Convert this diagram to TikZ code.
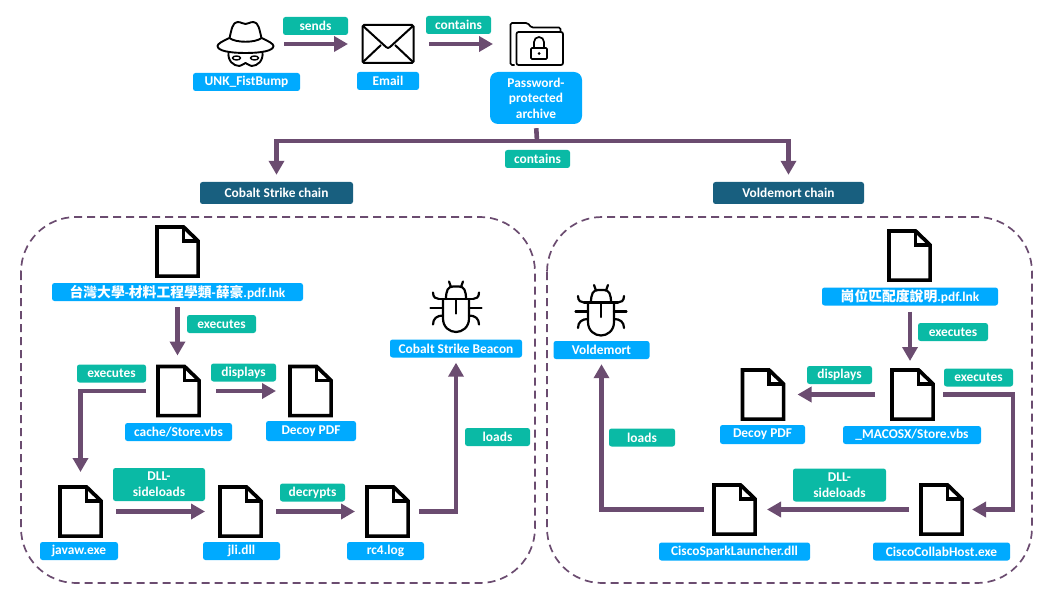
\documentclass[tikz,border=0pt]{standalone}
\usepackage{fontspec}
\setmainfont{Carlito}
\newfontfamily\cjkfont[Scale=1.03]{Noto Sans CJK TC}
\usetikzlibrary{arrows.meta}

\definecolor{labelblue}{RGB}{0,170,255}
\definecolor{verbteal}{RGB}{10,186,165}
\definecolor{chainblue}{RGB}{24,95,127}
\definecolor{flowpurple}{RGB}{107,76,112}

\tikzset{
    filelabel/.style={fill=labelblue, text=white, font=\fontsize{13.4}{15.5}\selectfont\bfseries, rounded corners=2.5pt,
        minimum height=18pt, inner sep=0pt, align=center},
    verblabel/.style={fill=verbteal, text=white, font=\fontsize{13.4}{16}\selectfont\bfseries, rounded corners=2.5pt,
        minimum height=18pt, inner sep=0pt, align=center},
    chainlabel/.style={fill=chainblue, text=white, font=\fontsize{13.4}{15}\selectfont\bfseries, rounded corners=2.5pt,
        minimum height=22pt, inner sep=0pt},
    flow/.style={draw=flowpurple, line width=4.6pt, -{Triangle[length=14pt,width=15pt]}},
    flowplain/.style={draw=flowpurple, line width=4.6pt},
    chainbox/.style={draw=flowpurple, line width=1.7pt, dash pattern=on 8pt off 5pt, rounded corners=55pt},
    iconnode/.style={inner sep=0pt, outer sep=0pt},
    docnode/.style={iconnode, minimum width=45pt, minimum height=53pt},
    bugnode/.style={iconnode, minimum width=52pt, minimum height=52pt},
    docicon/.pic={
        \draw[line width=3.7pt, line join=miter] (-20.6,-24.6) -- (6,-24.6) -- (20.6,-10.5) -- (20.6,24.6) -- (-20.6,24.6) -- cycle;
        \draw[line width=3.7pt, line join=miter] (6,-24.6) -- (6,-10.5) -- (20.6,-10.5);
    },
    bugicon/.pic={
        \draw[line width=2.2pt, line cap=round] (-10,-7.5) .. controls (-10,-16) and (-8,-20) .. (-3,-20) -- (3,-20)
            .. controls (8,-20) and (10,-16) .. (10,-7.5);
        \draw[line width=2.2pt, line cap=round] (-17,-7.5) -- (17,-7.5);
        \draw[line width=2.2pt, line cap=round] (-13,-7.5) -- (-13,12) .. controls (-13,21) and (-6,25.5) .. (0,25.5)
            .. controls (6,25.5) and (13,21) .. (13,12) -- (13,-7.5);
        \draw[line width=2.2pt, line cap=round] (0,-7.5) -- (0,7);
        \foreach \s in {-1,1} {
            \draw[line width=2.2pt, line cap=round] (\s*7,-25) -- (\s*5,-19.5);
            \draw[line width=2.2pt, line cap=round] (\s*23,-14) .. controls (\s*23,-9) and (\s*20,-7.5) .. (\s*17,-7.5);
            \draw[line width=2.2pt, line cap=round] (\s*25.5,1.5) -- (\s*13,1.5);
            \draw[line width=2.2pt, line cap=round] (\s*23,18) .. controls (\s*23,12) and (\s*19,9) .. (\s*13,9);
        }
    },
    spyicon/.pic={
        \draw[line width=1.9pt, line join=round] (-16,-6) .. controls (-14,-14) and (-13,-22) .. (-8,-22)
            .. controls (-4,-22) and (-3,-20) .. (0,-20) .. controls (3,-20) and (4,-22) .. (8,-22)
            .. controls (13,-22) and (14,-14) .. (16,-6);
        \draw[line width=1.9pt, line join=round] (-16,-6) .. controls (-23,-3) and (-28,0) .. (-28,2)
            .. controls (-28,7) and (-15,9) .. (0,9) .. controls (15,9) and (28,7) .. (28,2)
            .. controls (28,0) and (23,-3) .. (16,-6) .. controls (10,-1) and (-10,-1) .. (-16,-6);
        \draw[line width=1.9pt, line join=round] (-17,8) .. controls (-18,17) and (-12,22) .. (-6,22)
            .. controls (-3,22) and (-2,19) .. (0,19) .. controls (2,19) and (3,22) .. (6,22)
            .. controls (12,22) and (18,17) .. (17,8);
        \draw[line width=1.4pt] (-9,14) ellipse (4 and 2);
        \draw[line width=1.4pt] (9,14) ellipse (4 and 2);
    },
    mailicon/.pic={
        \draw[line width=2pt, rounded corners=1.5pt] (-25.5,-19) rectangle (25.5,19);
        \draw[line width=2pt, line join=round] (-25,-18) -- (-2,3) -- (0,4) -- (2,3) -- (25,-18);
        \draw[line width=2pt] (-25,18) -- (-7,1);
        \draw[line width=2pt] (25,18) -- (7,1);
    },
    foldericon/.pic={
        \draw[line width=1.7pt, rounded corners=1.5pt] (-22,21) -- (-26,21) -- (-26,-21) -- (-9,-21) -- (-5,-16.5) -- (24,-16.5) -- (24,-12);
        \draw[line width=1.7pt, rounded corners=2pt] (-20,-12) rectangle (26.5,21);
        \draw[line width=1.7pt, rounded corners=1pt] (-5.5,4) rectangle (10.5,15);
        \draw[line width=1.7pt] (-2.5,4) -- (-2.5,-2) arc (180:360:5) -- (7.5,4);
        \fill (2.5,9.5) circle (1.5);
    }
}

\begin{document}
\begin{tikzpicture}[x=1pt, y=-1pt]
    \useasboundingbox (0,0) rectangle (1057,596);

    \draw[chainbox] (21,217) rectangle (535,583);
    \draw[chainbox] (547,217) rectangle (1032,583);

    \node[iconnode, minimum width=57pt, minimum height=44pt] (actor) at (245.5,44) {};
    \node[iconnode, minimum width=52pt, minimum height=38pt] (email) at (388,44) {};
    \node[iconnode, minimum width=53pt, minimum height=42pt] (folder) at (536.5,44) {};
    \pic at (actor) {spyicon};
    \pic at (email) {mailicon};
    \pic at (folder) {foldericon};

    \foreach \name/\x/\y in {lnkdoc/177.5/251.5, vbsdoc/178.5/391, decoydoc/310.5/391, javawdoc/80.5/511.5,
        jlidoc/240.5/511.5, rcdoc/387.5/511.5, mlnkdoc/909.5/255.5, mvbsdoc/912.5/394.5, mdecoydoc/763/394.5,
        collabdoc/941.5/509.5, sparkdoc/734.5/509.5} {
        \node[docnode] (\name) at (\x,\y) {};
        \pic at (\name) {docicon};
    }

    \node[bugnode] (beaconbug) at (456,306.5) {};
    \node[bugnode] (voldbug) at (601,310) {};
    \pic at (beaconbug) {bugicon};
    \pic at (voldbug) {bugicon};

    \node[filelabel, minimum width=107pt] (actorlabel) at (246.5,82) {UNK\_FistBump};
    \node[filelabel, minimum width=62pt] (emaillabel) at (388,81) {Email};
    \node[filelabel, minimum width=92pt, minimum height=52pt, rounded corners=8pt] (archive) at (536,98) {Password-\\protected\\archive};
    \node[filelabel, minimum width=251pt] (lnklabel) at (177.5,292) {{\cjkfont 台灣大學}-{\cjkfont 材料工程學類}-{\cjkfont 薛豪}.pdf.lnk};
    \node[filelabel, minimum width=107pt] (vbslabel) at (178.5,432) {cache/Store.vbs};
    \node[filelabel, minimum width=90pt, minimum height=20pt] (decoylabel) at (311,431) {Decoy PDF};
    \node[filelabel, minimum width=78pt] (javawlabel) at (79,551) {javaw.exe};
    \node[filelabel, minimum width=77pt] (jlilabel) at (241.5,551) {jli.dll};
    \node[filelabel, minimum width=77pt] (rclabel) at (385.5,551) {rc4.log};
    \node[filelabel, minimum width=132pt] (beaconlabel) at (456,348.5) {Cobalt Strike Beacon};
    \node[filelabel, minimum width=96pt] (voldlabel) at (601.5,350) {Voldemort};
    \node[filelabel, minimum width=176pt] (mlnklabel) at (910,296.5) {{\cjkfont 崗位匹配度說明}.pdf.lnk};
    \node[filelabel, minimum width=138pt] (mvbslabel) at (912,435) {\_MACOSX/Store.vbs};
    \node[filelabel, minimum width=85pt, minimum height=19pt] (mdecoylabel) at (762.5,434.5) {Decoy PDF};
    \node[filelabel, minimum width=137pt] (collablabel) at (941.5,551.5) {CiscoCollabHost.exe};
    \node[filelabel, minimum width=151pt] (sparklabel) at (734.5,551.5) {CiscoSparkLauncher.dll};

    \node[chainlabel, minimum width=153pt] (cobaltchain) at (276.5,193) {Cobalt Strike chain};
    \node[chainlabel, minimum width=151pt] (voldchain) at (788.5,193) {Voldemort chain};

    \node[verblabel, minimum width=65pt] (sendsverb) at (315.5,26) {sends};
    \node[verblabel, minimum width=65pt] (containsverb) at (458.5,25) {contains};
    \node[verblabel, minimum width=65pt] (splitverb) at (537.5,159) {contains};
    \node[verblabel, minimum width=69pt] (lnkverb) at (221.5,324) {executes};
    \node[verblabel, minimum width=69pt] (vbsverb) at (111.5,373.5) {executes};
    \node[verblabel, minimum width=65pt] (showverb) at (243.5,372.5) {displays};
    \node[verblabel, minimum width=92pt, minimum height=33pt] (dllverb) at (159,484.5) {DLL-\\sideloads};
    \node[verblabel, minimum width=65pt] (decryptverb) at (312.5,492.5) {decrypts};
    \node[verblabel, minimum width=65pt] (loadverb) at (497.5,437) {loads};
    \node[verblabel, minimum width=70pt] (mlnkverb) at (953,332) {executes};
    \node[verblabel, minimum width=69pt] (mvbsverb) at (978.5,377.5) {executes};
    \node[verblabel, minimum width=65pt] (mshowverb) at (839.5,375) {displays};
    \node[verblabel, minimum width=93pt, minimum height=33pt] (mdllverb) at (839.5,485) {DLL-\\sideloads};
    \node[verblabel, minimum width=66pt] (mloadverb) at (642,437.5) {loads};

    \coordinate (split) at (537,141);
    \coordinate (mturn) at (1013,509.5);

    \draw[flow, shorten <=10pt, shorten >=14pt] (actor) -- (email);
    \draw[flow, shorten <=15pt, shorten >=17pt] (email) -- (folder);
    \draw[flowplain, shorten <=4pt] (archive.south) -- (split);
    \draw[flow, shorten >=7pt] (split) -| (cobaltchain.north);
    \draw[flow, shorten >=7pt] (split) -| (voldchain.north);

    \draw[flow, shorten <=6pt, shorten >=9pt] (lnklabel.south) -- (lnklabel.south |- vbsdoc.north);
    \draw[flow, shorten <=15pt, shorten >=12pt] (vbsdoc) -- (decoydoc);
    \draw[flow, shorten <=10pt, shorten >=13pt] (vbsdoc.west) -| (javawdoc.north);
    \draw[flow, shorten <=13pt, shorten >=13pt] (javawdoc) -- (jlidoc);
    \draw[flow, shorten <=13pt, shorten >=10pt] (jlidoc) -- (rcdoc);
    \draw[flow, shorten <=9pt, shorten >=5pt] (rcdoc.east) -| (beaconlabel.south);

    \draw[flow, shorten <=6pt, shorten >=7pt] (mlnklabel.south) -- (mlnklabel.south |- mvbsdoc.north);
    \draw[flow, shorten <=15pt, shorten >=12pt] (mvbsdoc) -- (mdecoydoc);
    \draw[flow, shorten <=8pt, shorten >=8pt] (mvbsdoc.east) -| (mturn) -- (collabdoc.east);
    \draw[flow, shorten <=10pt, shorten >=10pt] (collabdoc) -- (sparkdoc);
    \draw[flow, shorten <=8pt, shorten >=5pt] (sparkdoc.west) -| (voldlabel.south);
\end{tikzpicture}
\end{document}
